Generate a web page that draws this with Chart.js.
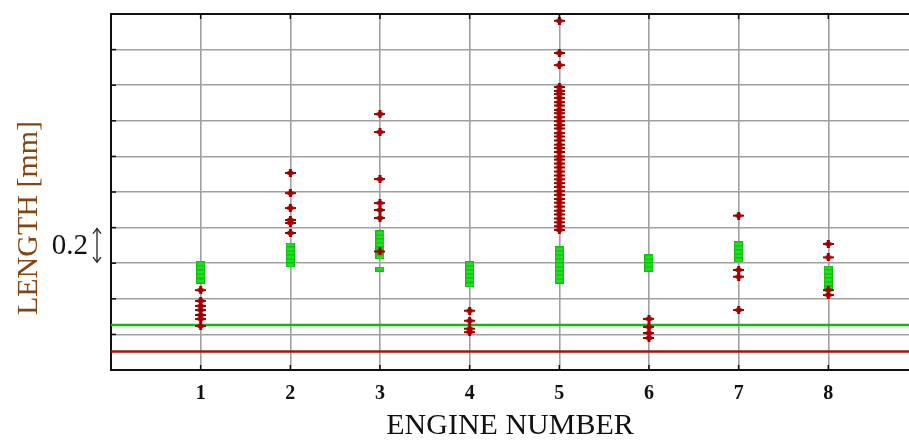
<!DOCTYPE html>
<html><head><meta charset="utf-8">
<style>html,body{margin:0;padding:0;background:#fff;overflow:hidden}#wrap{width:909px;height:440px;position:relative;overflow:hidden}</style>
<script src="https://cdn.jsdelivr.net/npm/chart.js@4"></script>
</head><body><div id="wrap"><canvas id="c" width="914" height="440"></canvas></div>
<script>
const engines = [1, 2, 3, 4, 5, 6, 7, 8];
const xTickLabels = ['1', '2', '3', '4', '5', '6', '7', '8'];
const redValues = [
  [0.449, 0.388, 0.360, 0.337, 0.309, 0.287, 0.247],
  [1.107, 0.994, 0.910, 0.843, 0.826, 0.770],
  [1.438, 1.337, 1.073, 0.938, 0.899, 0.854, 0.666],
  [0.333, 0.277, 0.232, 0.213],
  [1.962, 1.781, 1.713, 1.590, 1.568, 1.551, 1.529, 1.505, 1.486, 1.461, 1.443, 1.420, 1.398, 1.376, 1.357, 1.331, 1.312, 1.290, 1.266, 1.247, 1.225, 1.200, 1.182, 1.160, 1.138, 1.115, 1.093, 1.071, 1.050, 1.029, 1.005, 0.984, 0.961, 0.940, 0.918, 0.895, 0.874, 0.851, 0.830, 0.808, 0.787],
  [0.287, 0.242, 0.208, 0.180],
  [0.867, 0.562, 0.524, 0.337],
  [0.708, 0.633, 0.449, 0.421]
];
const greenValues = [
  [0.596, 0.573, 0.551, 0.528, 0.500],
  [0.702, 0.680, 0.657, 0.635, 0.612, 0.590],
  [0.770, 0.747, 0.725, 0.702, 0.680, 0.657, 0.635, 0.567],
  [0.596, 0.573, 0.551, 0.528, 0.506, 0.478],
  [0.680, 0.657, 0.635, 0.612, 0.590, 0.567, 0.545, 0.522, 0.500],
  [0.635, 0.612, 0.590, 0.567],
  [0.708, 0.685, 0.663, 0.640, 0.618],
  [0.573, 0.551, 0.528, 0.506, 0.483, 0.461]
];
const greenLimit = 0.253;
const redLimit = 0.104;
const yMin = 0, yMax = 2.0, yStep = 0.2;
const xMin = 0, xMax = 8.9;
const yTitle = 'LENGTH [mm]';
const xTitle = 'ENGINE NUMBER';
const scaleLabel = '0.2';
const scaleFrom = 0.6, scaleTo = 0.8;

function makeRed() {
  const c = document.createElement('canvas'); c.width = 11; c.height = 8;
  const g = c.getContext('2d');
  g.fillStyle = '#b00000';
  g.beginPath(); g.moveTo(0, 4); g.lineTo(5.5, 1); g.lineTo(11, 4); g.lineTo(5.5, 7); g.closePath(); g.fill();
  g.fillStyle = '#a00000';
  g.fillRect(0, 3, 11, 2); g.fillRect(4, 0, 3, 8);
  return c;
}
function makeGreen() {
  const c = document.createElement('canvas'); c.width = 9; c.height = 5;
  const g = c.getContext('2d');
  g.fillStyle = '#10c010'; g.fillRect(0, 0, 9, 5);
  g.fillStyle = '#22dd22'; g.fillRect(1, 1, 7, 3);
  return c;
}
const redImg = makeRed(), greenImg = makeGreen();

const redPts = [], greenPts = [];
engines.forEach((e, i) => {
  redValues[i].forEach(v => redPts.push({x: e, y: v}));
  greenValues[i].forEach(v => greenPts.push({x: e, y: v}));
});

const serif = '"Liberation Serif", "DejaVu Serif", serif';

const deco = {
  id: 'deco',
  afterDraw(chart) {
    const {ctx, chartArea: a, scales: {x, y}} = chart;
    ctx.save();
    ctx.strokeStyle = '#111'; ctx.lineWidth = 2;
    ctx.beginPath(); ctx.moveTo(a.left, a.top); ctx.lineTo(a.right, a.top); ctx.stroke();
    ctx.lineWidth = 1.5; ctx.strokeStyle = '#111';
    x.ticks.forEach(t => {
      if (t.value <= xMin) return;
      const px = x.getPixelForValue(t.value);
      ctx.beginPath(); ctx.moveTo(px, a.bottom); ctx.lineTo(px, a.bottom - 5);
      ctx.moveTo(px, a.top); ctx.lineTo(px, a.top + 5); ctx.stroke();
    });
    y.ticks.forEach(t => {
      if (t.value <= yMin || t.value >= yMax) return;
      const py = y.getPixelForValue(t.value);
      ctx.beginPath(); ctx.moveTo(a.left, py); ctx.lineTo(a.left + 5, py); ctx.stroke();
    });
    ctx.fillStyle = '#844510';
    ctx.font = '30px ' + serif;
    ctx.textAlign = 'center'; ctx.textBaseline = 'middle';
    ctx.translate(29, 218); ctx.rotate(-Math.PI / 2);
    ctx.fillText(yTitle, 0, 0);
    ctx.restore();
    ctx.save();
    const y1 = y.getPixelForValue(scaleTo), y2 = y.getPixelForValue(scaleFrom);
    ctx.fillStyle = '#111'; ctx.font = '29px ' + serif;
    ctx.textAlign = 'right'; ctx.textBaseline = 'middle';
    ctx.fillText(scaleLabel, 88, (y1 + y2) / 2 + 1);
    const ax = 97;
    ctx.strokeStyle = '#222'; ctx.lineWidth = 1.3;
    ctx.beginPath(); ctx.moveTo(ax, y1 + 1); ctx.lineTo(ax, y2 - 1); ctx.stroke();
    ctx.beginPath();
    ctx.moveTo(ax - 4, y1 + 6); ctx.lineTo(ax, y1 + 1); ctx.lineTo(ax + 4, y1 + 6);
    ctx.moveTo(ax - 4, y2 - 6); ctx.lineTo(ax, y2 - 1); ctx.lineTo(ax + 4, y2 - 6);
    ctx.stroke();
    ctx.restore();
  }
};

new Chart(document.getElementById('c'), {
  type: 'scatter',
  data: {
    datasets: [
      {label: 'red', data: redPts, pointStyle: redImg, order: 0},
      {label: 'green', data: greenPts, pointStyle: greenImg, order: 1},
      {label: 'greenLimit', type: 'line', data: [{x: xMin, y: greenLimit}, {x: xMax, y: greenLimit}],
        borderColor: '#12b812', borderWidth: 2.5, pointRadius: 0, order: 2},
      {label: 'redLimit', type: 'line', data: [{x: xMin, y: redLimit}, {x: xMax, y: redLimit}],
        borderColor: '#a01414', borderWidth: 2.5, pointRadius: 0, order: 3}
    ]
  },
  options: {
    responsive: false, animation: false, devicePixelRatio: 1,
    layout: {padding: {top: 14, left: 0, right: 0, bottom: 0}},
    plugins: {legend: {display: false}, tooltip: {enabled: false}},
    scales: {
      x: {
        type: 'linear', min: xMin, max: xMax,
        afterFit: s => { s.height = 70; s.paddingLeft = 0; s.paddingRight = 0; },
        afterBuildTicks: s => { s.ticks = [0].concat(engines).map(v => ({value: v})); },
        ticks: {
          callback: v => { const i = engines.indexOf(v); return i >= 0 ? xTickLabels[i] : ''; },
          color: '#111', padding: 14, maxRotation: 0, autoSkip: false,
          font: {family: serif, size: 20, weight: 'bold', lineHeight: 1}
        },
        grid: {color: '#a0a0a0', lineWidth: 1.6, drawTicks: false},
        border: {display: true, color: '#111', width: 2},
        title: {display: true, text: xTitle, color: '#111', padding: {top: 0, bottom: -1},
          font: {family: serif, size: 30, lineHeight: 1}}
      },
      y: {
        min: yMin, max: yMax,
        afterFit: s => { s.width = 111; s.paddingTop = 0; s.paddingBottom = 0; },
        ticks: {display: false, stepSize: yStep},
        grid: {color: '#a0a0a0', lineWidth: 1.6, drawTicks: false},
        border: {display: true, color: '#111', width: 2}
      }
    }
  },
  plugins: [deco]
});
</script></body></html>
